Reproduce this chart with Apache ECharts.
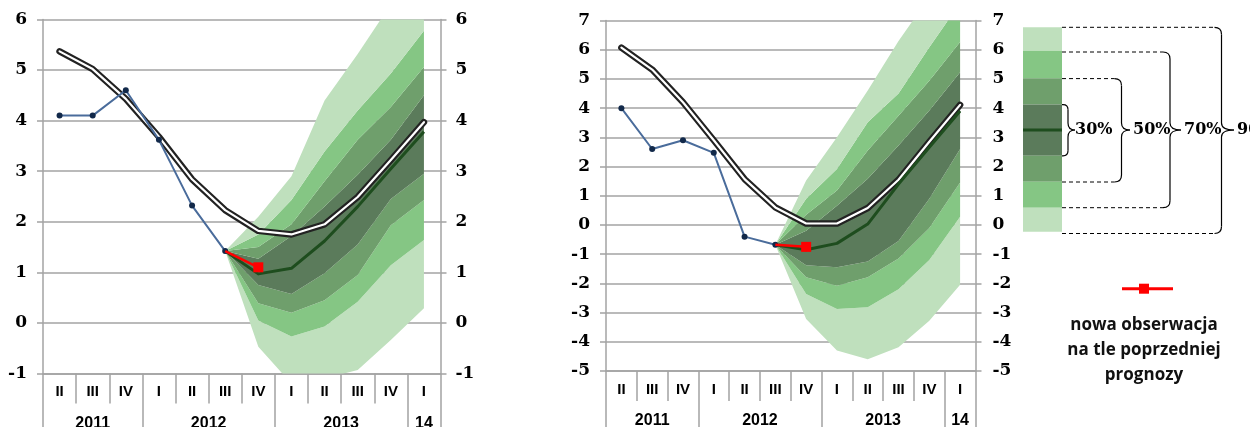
<!DOCTYPE html>
<html>
<head>
<meta charset="utf-8">
<script src="https://cdn.jsdelivr.net/npm/echarts@6/dist/echarts.min.js"></script>
<style>
  html, body { margin: 0; padding: 0; background: #ffffff; }
  #chart { width: 1250px; height: 427px; }
</style>
</head>
<body>
<div id="chart"></div>
<script>
// ---- categories / tick labels ----
const quarters = ['II', 'III', 'IV', 'I', 'II', 'III', 'IV', 'I', 'II', 'III', 'IV', 'I'];
const yearLabels = ['2011', '2012', '2013', '14'];
const yearSpans = [3, 4, 4, 1];
const leftRange = [-1, 6];
const rightRange = [-5, 7];

// ---- left panel ----
const leftActual   = [4.1, 4.1, 4.6, 3.62, 2.32, 1.42, null, null, null, null, null, null];
const leftNewObs   = [null, null, null, null, null, 1.42, 1.1, null, null, null, null, null];
const leftPrevPath = [5.37, 5.02, 4.43, 3.68, 2.84, 2.23, 1.82, 1.75, 1.95, 2.49, 3.22, 3.97];
const leftCentral  = [null, null, null, null, null, 1.42, 0.97, 1.08, 1.62, 2.3, 3.05, 3.78];
const leftLow90  = [null, null, null, null, null, 1.42, -0.47, -1.2, -1.1, -0.93, -0.34, 0.29];
const leftLow70  = [null, null, null, null, null, 1.42, 0.05, -0.27, -0.07, 0.42, 1.14, 1.64];
const leftLow50  = [null, null, null, null, null, 1.42, 0.39, 0.2, 0.45, 0.95, 1.93, 2.43];
const leftLow30  = [null, null, null, null, null, 1.42, 0.75, 0.57, 0.98, 1.55, 2.45, 2.95];
const leftHigh30 = [null, null, null, null, null, 1.42, 1.27, 1.72, 2.3, 2.93, 3.62, 4.5];
const leftHigh50 = [null, null, null, null, null, 1.42, 1.5, 1.95, 2.8, 3.62, 4.27, 5.06];
const leftHigh70 = [null, null, null, null, null, 1.42, 1.75, 2.43, 3.39, 4.2, 4.93, 5.78];
const leftHigh90 = [null, null, null, null, null, 1.42, 2.1, 2.9, 4.4, 5.32, 6.3, 7.2];

// ---- right panel ----
const rightActual   = [4.0, 2.6, 2.9, 2.47, -0.4, -0.68, null, null, null, null, null, null];
const rightNewObs   = [null, null, null, null, null, -0.68, -0.75, null, null, null, null, null];
const rightPrevPath = [6.07, 5.32, 4.2, 2.9, 1.57, 0.6, 0.05, 0.05, 0.58, 1.55, 2.85, 4.11];
const rightCentral  = [null, null, null, null, null, -0.68, -0.85, -0.63, 0.03, 1.4, 2.66, 3.9];
const rightLow90  = [null, null, null, null, null, -0.68, -3.22, -4.3, -4.6, -4.19, -3.28, -2.05];
const rightLow70  = [null, null, null, null, null, -0.68, -2.36, -2.88, -2.82, -2.2, -1.2, 0.28];
const rightLow50  = [null, null, null, null, null, -0.68, -1.79, -2.08, -1.79, -1.15, -0.1, 1.45];
const rightLow30  = [null, null, null, null, null, -0.68, -1.38, -1.45, -1.25, -0.55, 0.9, 2.6];
const rightHigh30 = [null, null, null, null, null, -0.68, -0.2, 0.66, 1.58, 2.72, 3.92, 5.23];
const rightHigh50 = [null, null, null, null, null, -0.68, 0.35, 1.18, 2.55, 3.74, 4.94, 6.26];
const rightHigh70 = [null, null, null, null, null, -0.68, 0.9, 1.92, 3.52, 4.5, 6.08, 7.6];
const rightHigh90 = [null, null, null, null, null, -0.68, 1.52, 3.0, 4.6, 6.3, 7.8, 9.0];

// ---- legend ----
const legendBands = ['90%', '70%', '50%', '30%'];
const legendNote = ['nowa obserwacja', 'na tle poprzedniej', 'prognozy'];

const COL = {
  axis: '#a3a3a3',
  light: '#bfe0bd',
  medium: '#85c684',
  mid: '#6f9f6c',
  dark: '#5b7b5b',
  central: '#1e4d1e',
  actual: '#4a6c9b',
  marker: '#12294a',
  red: '#ff0000',
  path: '#222222'
};
// colour of each stacked slice, from the 90% lower bound upwards
const fanColors = [null, COL.light, COL.medium, COL.mid, COL.dark, COL.mid, COL.medium, COL.light];

const valueFont = { fontFamily: '"DejaVu Serif", serif', fontWeight: 'bold', fontSize: 17, color: '#000' };
const quarterFont = { fontFamily: '"Liberation Sans", Arial, sans-serif', fontWeight: 'bold', fontSize: 15, color: '#000' };
const yearFont = { fontFamily: '"Liberation Sans", Arial, sans-serif', fontWeight: 'bold', fontSize: 16, color: '#000' };

// year group edges / centres in category units
const yearEdges = [0];
yearSpans.forEach(s => yearEdges.push(yearEdges[yearEdges.length - 1] + s));
const yearCenters = yearSpans.map((s, i) => yearEdges[i] + s / 2);

const grids = [
  { left: 43, right: 809.5, top: 19.5, bottom: 53.5, outerBoundsMode: 'none', containLabel: false },
  { left: 606, right: 274.5, top: 20.5, bottom: 56, outerBoundsMode: 'none', containLabel: false }
];

const xAxes = [], yAxes = [], series = [];

function addPanel(idx, range, actual, newObs, prevPath, central, bounds) {
  const lineStyle = { color: COL.axis, width: 1.5 };
  // quarter row
  xAxes.push({
    type: 'category', gridIndex: idx, data: quarters, boundaryGap: true, position: 'bottom',
    axisLine: { show: true, onZero: false, lineStyle },
    axisTick: { show: true, interval: 0, length: 30, lineStyle },
    axisLabel: Object.assign({ interval: 0, margin: 11 }, quarterFont),
    splitLine: { show: false }
  });
  // year row: separators between years
  xAxes.push({
    type: 'category', gridIndex: idx, data: quarters, boundaryGap: true, position: 'bottom', offset: 30,
    axisLine: { show: false, onZero: false },
    axisTick: { show: true, length: 30, interval: i => yearEdges.indexOf(i) >= 0, lineStyle },
    axisLabel: { show: false },
    splitLine: { show: false }
  });
  // year row: labels centred on each year's quarters
  xAxes.push({
    type: 'value', gridIndex: idx, position: 'bottom', offset: 30, min: 0, max: quarters.length,
    axisLine: { show: false, onZero: false },
    axisTick: { show: false },
    axisLabel: Object.assign({
      customValues: yearCenters, margin: 12,
      formatter: v => {
        const k = yearCenters.findIndex(c => Math.abs(c - v) < 1e-6);
        return k >= 0 ? yearLabels[k] : '';
      }
    }, yearFont),
    splitLine: { show: false }
  });
  yAxes.push({
    type: 'value', gridIndex: idx, position: 'left', min: range[0], max: range[1], interval: 1,
    axisLine: { show: true, onZero: false, lineStyle },
    axisTick: { show: true, length: 6, lineStyle },
    axisLabel: Object.assign({ margin: 16 }, valueFont),
    splitLine: { show: true, lineStyle: { color: COL.axis, width: 1.5 } }
  });
  yAxes.push({
    type: 'value', gridIndex: idx, position: 'right', min: range[0], max: range[1], interval: 1,
    axisLine: { show: true, onZero: false, lineStyle },
    axisTick: { show: true, length: 6, lineStyle },
    axisLabel: Object.assign({ margin: idx === 0 ? 15 : 17 }, valueFont),
    splitLine: { show: false }
  });

  const xi = idx * 3, yi = idx * 2;
  const toData = arr => arr.map(v => (v === null ? '-' : v));

  // fan: stacked slices between consecutive probability bounds
  bounds.forEach((b, k) => {
    const data = b.map((v, i) => {
      if (v === null) return '-';
      return k === 0 ? v : +(v - bounds[k - 1][i]).toFixed(4);
    });
    const s = {
      type: 'line', xAxisIndex: xi, yAxisIndex: yi, data,
      stack: 'fan' + idx, stackStrategy: 'all',
      symbol: 'none', smooth: false, silent: true, z: 1,
      lineStyle: { width: 0, opacity: 0 }
    };
    if (fanColors[k]) s.areaStyle = { color: fanColors[k], opacity: 1 };
    series.push(s);
  });

  // previous policy path: black outline with white core
  series.push({
    type: 'line', xAxisIndex: xi, yAxisIndex: yi, data: toData(prevPath), symbol: 'none', z: 3, silent: true,
    lineStyle: { color: COL.path, width: 6.5, cap: 'round', join: 'round' }
  });
  series.push({
    type: 'line', xAxisIndex: xi, yAxisIndex: yi, data: toData(prevPath), symbol: 'none', z: 4, silent: true,
    lineStyle: { color: '#ffffff', width: 2.2, cap: 'round', join: 'round' }
  });
  // central projection
  series.push({
    type: 'line', xAxisIndex: xi, yAxisIndex: yi, data: toData(central), symbol: 'none', z: 5, silent: true,
    lineStyle: { color: COL.central, width: 3, join: 'round' }
  });
  // observed data
  series.push({
    type: 'line', xAxisIndex: xi, yAxisIndex: yi, data: toData(actual), z: 6, silent: true,
    symbol: 'circle', symbolSize: 6, showAllSymbol: true,
    itemStyle: { color: COL.marker },
    lineStyle: { color: COL.actual, width: 2 }
  });
  // new observation
  const lastIdx = newObs.reduce((acc, v, i) => (v !== null ? i : acc), -1);
  series.push({
    type: 'line', xAxisIndex: xi, yAxisIndex: yi, data: toData(newObs), z: 7, silent: true,
    symbol: (val, p) => (p.dataIndex === lastIdx ? 'rect' : 'none'), symbolSize: 10, showAllSymbol: true,
    itemStyle: { color: COL.red },
    lineStyle: { color: COL.red, width: 2.5 }
  });
}

addPanel(0, leftRange, leftActual, leftNewObs, leftPrevPath, leftCentral,
  [leftLow90, leftLow70, leftLow50, leftLow30, leftHigh30, leftHigh50, leftHigh70, leftHigh90]);
addPanel(1, rightRange, rightActual, rightNewObs, rightPrevPath, rightCentral,
  [rightLow90, rightLow70, rightLow50, rightLow30, rightHigh30, rightHigh50, rightHigh70, rightHigh90]);

// ---- legend drawing ----
const graphic = [];
const barX = 1023, barW = 39;
const barEdges = [27.3, 50.7, 78.3, 104.6, 155.8, 181.8, 207.7, 231.7];
const barColors = [COL.light, COL.medium, COL.mid, COL.dark, COL.mid, COL.medium, COL.light];
barColors.forEach((c, i) => {
  graphic.push({ type: 'rect', shape: { x: barX, y: barEdges[i], width: barW, height: barEdges[i + 1] - barEdges[i] },
    style: { fill: c }, silent: true });
});
const midY = 130;
graphic.push({ type: 'rect', shape: { x: barX, y: midY - 1.5, width: barW, height: 3 }, style: { fill: COL.central }, silent: true });

const stroke = { stroke: '#000', lineWidth: 1.2, fill: null };
function seg(x1, y1, x2, y2, dash) {
  const st = Object.assign({}, stroke);
  if (dash) { st.lineDash = [4, 3]; st.lineWidth = 1; }
  graphic.push({ type: 'line', silent: true, shape: { x1, y1, x2, y2 }, style: st });
}
function curve(x1, y1, cx, cy, x2, y2) {
  graphic.push({ type: 'bezierCurve', silent: true,
    shape: { x1, y1, x2, y2, cpx1: cx, cpy1: cy }, style: Object.assign({}, stroke) });
}

// braces, outermost first: [top, bottom, vertical x, tip x, text x]
const braces = [
  [27.3, 233.5, 1221.5, 1234, 1237],
  [52, 207.7, 1170, 1181, 1184],
  [78.6, 182, 1121.5, 1130, 1133],
  [104.6, 155.8, 1068, 1075, 1075]
];
braces.forEach((b, i) => {
  const [yT, yB, xV, xT, tx] = b;
  const inner = i === 3;
  const r = inner ? 5 : 7, r2 = 7;
  const x0 = barX + barW;
  seg(x0, yT, xV - r, yT, !inner);
  seg(x0, yB, xV - r, yB, !inner);
  curve(xV - r, yT, xV, yT, xV, yT + r);
  seg(xV, yT + r, xV, midY - r2);
  curve(xV, midY - r2, xV, midY, xT, midY);
  curve(xT, midY, xV, midY, xV, midY + r2);
  seg(xV, midY + r2, xV, yB - r);
  curve(xV, yB - r, xV, yB, xV - r, yB);
  graphic.push({ type: 'text', silent: true, x: tx, y: midY,
    style: { text: legendBands[i], fill: '#000', align: 'left', verticalAlign: 'middle',
      font: 'bold 16px "DejaVu Serif", serif' } });
});

// new-observation key
const keyX = 1144, keyY = 288.7;
graphic.push({ type: 'line', shape: { x1: keyX - 22, y1: keyY, x2: keyX + 29, y2: keyY }, silent: true,
  style: { stroke: COL.red, lineWidth: 3 } });
graphic.push({ type: 'rect', shape: { x: keyX - 5, y: keyY - 5, width: 10, height: 10 }, silent: true,
  style: { fill: COL.red } });
legendNote.forEach((t, i) => {
  graphic.push({ type: 'text', silent: true, x: keyX, y: 325 + i * 25,
    style: { text: t, fill: '#111', align: 'center', verticalAlign: 'middle',
      font: 'bold 17px "Open Sans", sans-serif' } });
});

const chart = echarts.init(document.getElementById('chart'), null, { renderer: 'canvas' });
chart.setOption({
  animation: false,
  backgroundColor: '#ffffff',
  grid: grids,
  xAxis: xAxes,
  yAxis: yAxes,
  series,
  graphic
});
</script>
</body>
</html>
